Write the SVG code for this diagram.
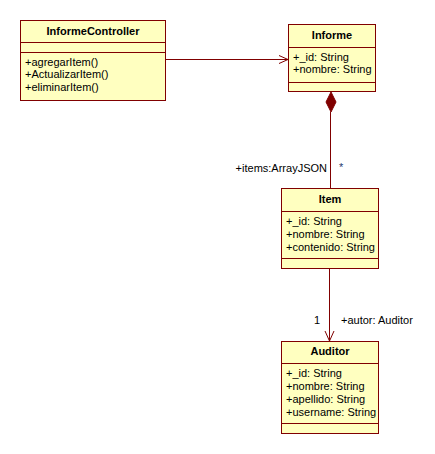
<svg xmlns="http://www.w3.org/2000/svg" width="435" height="454" viewBox="0 0 435 454">
<style>
.box{fill:#FFFFC0;stroke:#800000;stroke-width:1}
.sep{stroke:#800000;stroke-width:1}
.t{font-family:"Liberation Sans",Arial,sans-serif;font-size:11px;fill:#000}
.title{font-family:"Liberation Sans",Arial,sans-serif;font-size:11px;font-weight:bold;fill:#000;text-anchor:middle}
.edge{stroke:#800000;stroke-width:1;fill:none}
.lbl{font-family:"Liberation Sans",Arial,sans-serif;font-size:11px;fill:#000}
</style>
<rect width="435" height="454" fill="#fff"/>
<g id="InformeController">
<rect class="box" x="20.5" y="20.5" width="145" height="80"/>
<line class="sep" x1="20.5" y1="42.5" x2="165.5" y2="42.5"/>
<line class="sep" x1="20.5" y1="52.5" x2="165.5" y2="52.5"/>
<text class="title" x="93" y="35">InformeController</text>
<text class="t" x="25" y="66">+agregarItem()</text>
<text class="t" x="25" y="78">+ActualizarItem()</text>
<text class="t" x="25" y="91">+eliminarItem()</text>
</g>
<g id="Informe">
<rect class="box" x="288.5" y="24.5" width="87" height="67"/>
<line class="sep" x1="288.5" y1="47.5" x2="375.5" y2="47.5"/>
<line class="sep" x1="288.5" y1="82.5" x2="375.5" y2="82.5"/>
<text class="title" x="332" y="39">Informe</text>
<text class="t" x="293" y="61">+_id: String</text>
<text class="t" x="293" y="73">+nombre: String</text>
</g>
<g id="Item">
<rect class="box" x="281.5" y="188.5" width="97" height="80"/>
<line class="sep" x1="281.5" y1="211.5" x2="378.5" y2="211.5"/>
<line class="sep" x1="281.5" y1="258.5" x2="378.5" y2="258.5"/>
<text class="title" x="330" y="203">Item</text>
<text class="t" x="286" y="225">+_id: String</text>
<text class="t" x="286" y="238">+nombre: String</text>
<text class="t" x="286" y="251">+contenido: String</text>
</g>
<g id="Auditor">
<rect class="box" x="281.5" y="341.5" width="97" height="92"/>
<line class="sep" x1="281.5" y1="363.5" x2="378.5" y2="363.5"/>
<line class="sep" x1="281.5" y1="423.5" x2="378.5" y2="423.5"/>
<text class="title" x="330" y="355">Auditor</text>
<text class="t" x="286" y="377">+_id: String</text>
<text class="t" x="286" y="390">+nombre: String</text>
<text class="t" x="286" y="403">+apellido: String</text>
<text class="t" x="286" y="416">+username: String</text>
</g>
<g id="connectors">
<path class="edge" d="M165.5,59.5 H288"/>
<path class="edge" d="M279,55.5 L288,59.5 L279,63.5"/>
<path d="M331,92 L336,102 L331,112 L326,102 Z" fill="#800000" stroke="#800000"/>
<path class="edge" d="M330.5,112 V188"/>
<path class="edge" d="M329.5,269 V341"/>
<path class="edge" d="M325,331 L329.5,341 L334,331"/>
<text class="lbl" x="327" y="172" text-anchor="end">+items:ArrayJSON</text>
<text class="lbl" x="339" y="171" fill="#1F3A70" style="fill:#1F3A70">*</text>
<text class="lbl" x="314" y="324">1</text>
<text class="lbl" x="341" y="324">+autor: Auditor</text>
</g>
</svg>
